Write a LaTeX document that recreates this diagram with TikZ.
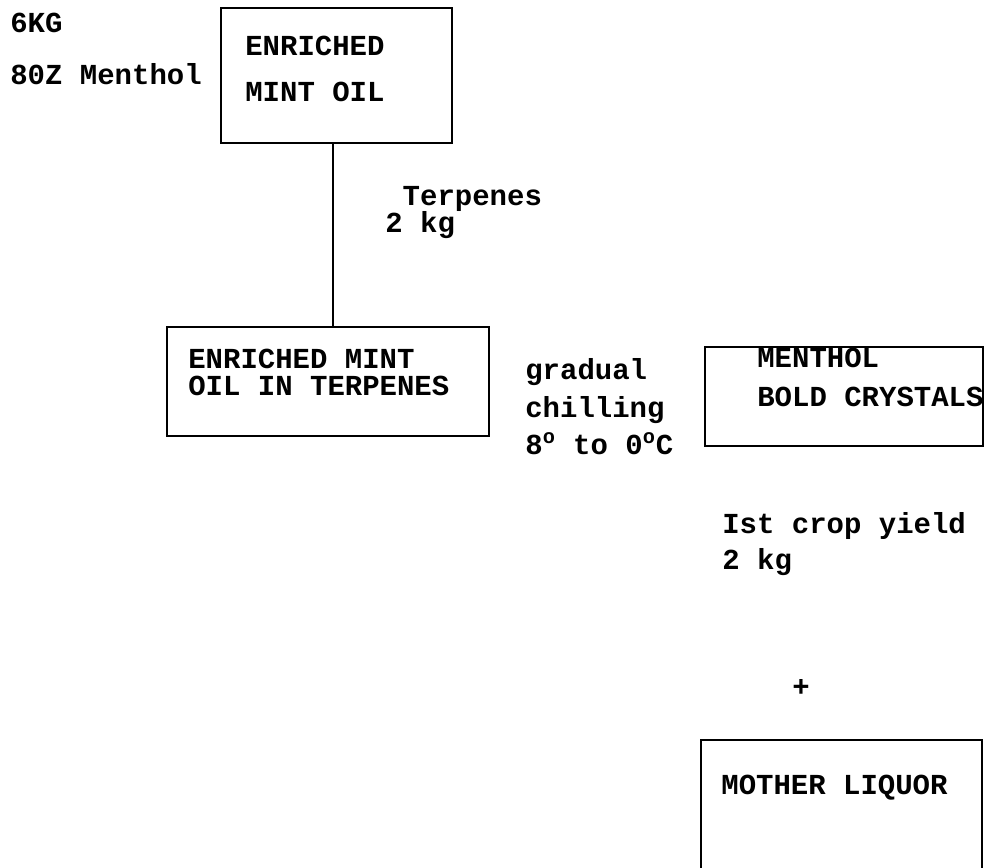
\documentclass[tikz,border=0pt]{standalone}
\usepackage{fontspec}
\setmonofont{Liberation Mono}
\usepackage{tikz}
\usetikzlibrary{positioning}

\tikzset{
	box/.style={draw, line width=1.6pt, inner sep=0pt, outer sep=0pt},
	txt/.style={font=\ttfamily\bfseries\fontsize{16.5}{#1}\selectfont, align=left, anchor=base west, inner sep=0pt}
}

\begin{document}
\begin{tikzpicture}[x=0.02cm, y=-0.02cm]
			\clip (0,0) rectangle (985,868);

			% boxes
			\node[box, minimum width=4.62cm, minimum height=2.7cm] (oil) at (336.5,75.5) {};
			\node[box, minimum width=6.44cm, minimum height=2.18cm] (terp) at (328,381.5) {};
			\node[box, minimum width=5.56cm, minimum height=1.98cm] (crys) at (844,396.5) {};
			\node[box, minimum width=5.62cm, minimum height=2.8cm] (liq) at (841.5,810) {};

			% connector
			\draw[line width=1.6pt] ([xshift=-0.07cm]oil.south) -- ([xshift=-0.07cm]oil.south |- terp.north);

			% texts (anchored at the baseline of the last line)
			\node[txt=30pt] (feed) at (10,85) {6KG\\80Z Menthol};
			\node[txt=26.7pt] (oiltxt) at (245,102) {ENRICHED\\MINT OIL};
			\node[txt=15.4pt] (terpkg) at (385,233) {\hspace*{0.6em}Terpenes\\2 kg};
			\node[txt=15.9pt] (terptxt) at (188,396) {ENRICHED MINT\\OIL IN TERPENES};
			\node[txt=21.6pt] (chill) at (525,455) {gradual\\chilling\\8\textsuperscript{o} to 0\textsuperscript{o}C};
			\node[txt=22.2pt] (crystxt) at (757,407) {MENTHOL\\BOLD CRYSTALS};
			\node[txt=21pt] (yield) at (722,570) {Ist crop yield\\2 kg};
			\node[font=\ttfamily\bfseries\fontsize{16.5}{20}\selectfont, inner sep=0pt] (plus) at (801,688) {+};
			\node[txt=20pt] (liqtxt) at (721,794) {MOTHER LIQUOR};
		\end{tikzpicture}
\end{document}
